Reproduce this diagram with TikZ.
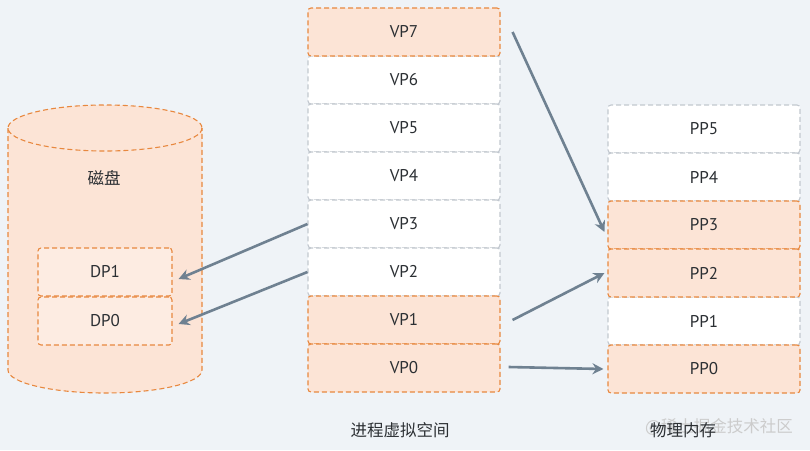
\documentclass[tikz,border=0pt]{standalone}
\usepackage{fontspec}
\setmainfont{PT Sans}
\newfontfamily\cjk{Noto Sans CJK SC}
\usetikzlibrary{arrows.meta,positioning}
\definecolor{bg}{HTML}{EFF3F7}
\definecolor{ofill}{HTML}{FCE4D6}
\definecolor{oline}{HTML}{E8883F}
\definecolor{gline}{HTML}{C2C8CF}
\definecolor{arrowc}{HTML}{6F8191}
\definecolor{txt}{HTML}{2B2F33}
\tikzset{
  x=1pt,y=-1pt,
  cell/.style={draw=gline,fill=white,dash pattern=on 5pt off 3pt,line width=1.1pt,rounded corners=3pt,
    minimum width=192pt,minimum height=48pt,inner sep=0pt,font=\fontsize{17}{19}\selectfont,text=txt},
  ocell/.style={cell,draw=oline,fill=ofill},
  arr/.style={draw=arrowc,line width=2.6pt,-{Stealth[length=11pt,width=11pt]}},
  lbl/.style={font=\cjk\fontsize{16.5}{18}\selectfont,text=txt}
}
\begin{document}
\begin{tikzpicture}
\fill[bg] (0,0) rectangle (810,450);
\useasboundingbox (0,0) rectangle (810,450);
% cylinder
\path[fill=ofill] (8,128) -- (8,370) arc[start angle=180,end angle=0,x radius=97,y radius=23] -- (202,128) arc[start angle=0,end angle=-180,x radius=97,y radius=23] -- cycle;
\draw[oline,line width=1.1pt,dash pattern=on 5pt off 3pt] (8,128) -- (8,370) arc[start angle=180,end angle=0,x radius=97,y radius=23] -- (202,128);
\draw[oline,line width=1.1pt,dash pattern=on 5pt off 3pt] (105,128) ellipse[x radius=97,y radius=23];
\node[lbl] (disk) at (104,178) {磁盘};
\node[ocell,minimum width=134pt,minimum height=48pt,fill=ofill!70!white] (dp1) at (105,272) {DP1};
\node[ocell,minimum width=134pt,minimum height=48pt,fill=ofill!70!white] (dp0) at (105,321) {DP0};
% virtual pages
\node[cell] (vp6) at (404,80) {VP6};
\node[cell] (vp5) at (404,128) {VP5};
\node[cell] (vp4) at (404,176) {VP4};
\node[cell] (vp3) at (404,224) {VP3};
\node[cell] (vp2) at (404,272) {VP2};
\node[ocell] (vp7) at (404,32) {VP7};
\node[ocell] (vp1) at (404,320) {VP1};
\node[ocell] (vp0) at (404,368) {VP0};
% physical pages
\node[cell] (pp5) at (704,129) {PP5};
\node[cell] (pp4) at (704,177) {PP4};
\node[cell] (pp1) at (704,321) {PP1};
\node[ocell] (pp3) at (704,225) {PP3};
\node[ocell] (pp2) at (704,273) {PP2};
\node[ocell] (pp0) at (704,369) {PP0};
% labels
\node[lbl] (vlabel) at (400,430) {进程虚拟空间};
\node[font=\cjk\fontsize{16.5}{18}\selectfont,text=black!20] (wm) at (719,427) {@稀土掘金技术社区};
\node[lbl] (plabel) at (683,430) {物理内存};
% arrows
\draw[arr] (vp3.west) -- ([xshift=6pt,yshift=-7pt]dp1.east);
\draw[arr] (vp2.west) -- ([xshift=6pt,yshift=-3pt]dp0.east);
\draw[arr] ([xshift=12pt]vp7.east) -- ([xshift=-3pt,yshift=-7pt]pp3.west);
\draw[arr] ([xshift=12pt]vp1.east) -- ([xshift=-3pt]pp2.west);
\draw[arr] ([xshift=8pt,yshift=1pt]vp0.east) -- ([xshift=-4pt]pp0.west);
\end{tikzpicture}
\end{document}
